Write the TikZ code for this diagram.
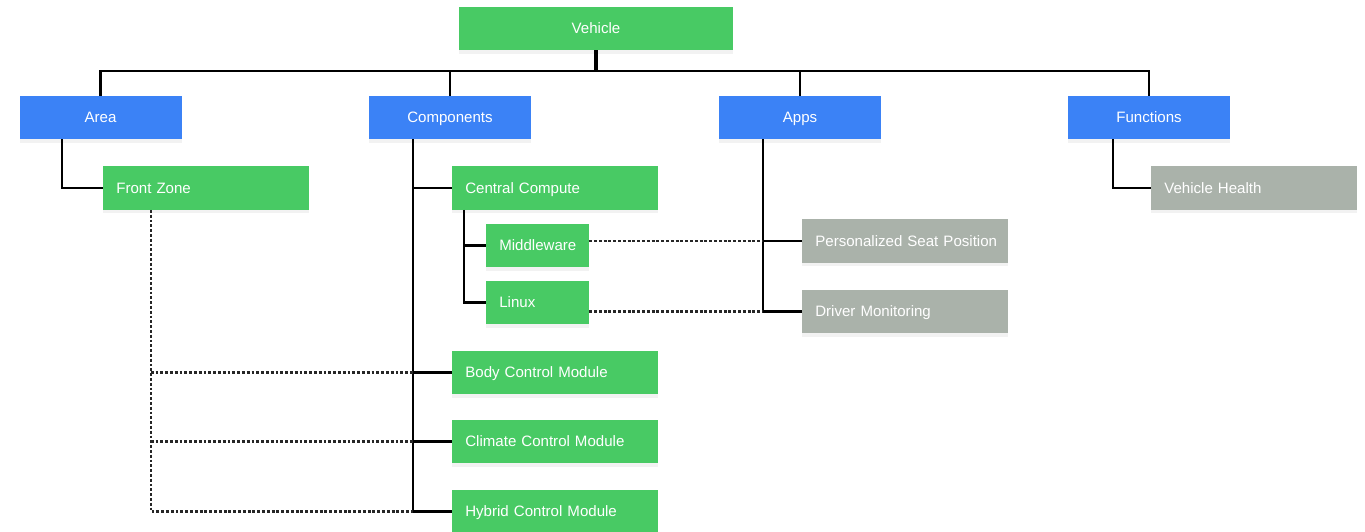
\documentclass[tikz,border=0pt]{standalone}
\usepackage{fontspec}
\setmainfont{Liberation Sans}
\usetikzlibrary{positioning, shadows}

\definecolor{boxgreen}{RGB}{72,202,100}
\definecolor{boxblue}{RGB}{59,130,246}
\definecolor{boxgray}{RGB}{170,178,170}

\tikzset{
  box/.style={draw=none, text=white, font=\fontsize{11.3}{13}\selectfont,
    minimum height=32.5pt, inner ysep=0pt, text height=8.2pt, text depth=0.5pt,
    drop shadow={shadow xshift=0pt, shadow yshift=-2.5pt, opacity=0.10}},
  group/.style={box, fill=boxblue, minimum width=121.5pt},
  item/.style={box, fill=boxgreen, text width=144.5pt, inner xsep=5pt, align=left,
    execute at begin node=\hspace*{5pt}},
  smallitem/.style={item, text width=67.25pt},
  feature/.style={item, fill=boxgray},
  tree/.style={line width=1.8pt},
  link/.style={line width=1.7pt, black!85, dash pattern=on 2.2pt off 1.4pt}
}

\begin{document}
\begin{tikzpicture}[x=0.75pt, y=-0.75pt]
\useasboundingbox (0,0) rectangle (1365,532);

\node[box, fill=boxgreen, minimum width=205.5pt] (vehicle) at (596,28.5) {Vehicle};

\node[group] (area) at (100.5,117.5) {Area};
\node[group] (comp) at (450,117.5) {Components};
\node[group] (apps) at (800,117.5) {Apps};
\node[group] (functions) at (1149,117.5) {Functions};

\node[item] (front) at (206,188) {Front Zone};
\node[item] (cc) at (555,188) {Central Compute};
\node[smallitem] (mw) at (537.5,245.5) {Middleware};
\node[smallitem] (linux) at (537.5,302.5) {Linux};
\node[item] (body) at (555,372.5) {Body Control Module};
\node[item] (climate) at (555,441.5) {Climate Control Module};
\node[item] (hybrid) at (555,511.5) {Hybrid Control Module};

\node[feature] (psp) at (905,241) {Personalized Seat Position};
\node[feature] (dm) at (905,311.5) {Driver Monitoring};
\node[feature] (vh) at (1254,188) {Vehicle Health};

% top level bus
\coordinate (bar) at (596,71);
\draw[line width=3.5pt] (vehicle.south) -- (bar);
\draw[tree] (area.north) |- (bar) -| (functions.north);
\foreach \n in {comp, apps}
  \draw[tree] (\n.north) -- (\n.north |- bar);

% stems under each group
\coordinate (astem) at ([xshift=32pt]area.south west);
\coordinate (cstem) at ([xshift=33pt]comp.south west);
\coordinate (ccstem) at ([xshift=9pt]cc.south west);
\coordinate (pstem) at ([xshift=33pt]apps.south west);
\coordinate (fstem) at ([xshift=34pt]functions.south west);

\draw[tree] (astem) |- (front.west);
\draw[tree] (fstem) |- (vh.west);

\draw[tree] (cstem) |- (hybrid.west);
\foreach \n in {cc, body, climate}
  \draw[tree] (cstem |- \n.west) -- (\n.west);

\draw[tree] (ccstem) |- (linux.west);
\draw[tree] (ccstem |- mw.west) -- (mw.west);

\draw[tree] (pstem) |- (dm.west);
\draw[tree] (pstem |- psp.west) -- (psp.west);

% dotted cross links
\coordinate (zstem) at ([xshift=36pt]front.south west);
\draw[link] (zstem) |- (cstem |- hybrid.west);
\foreach \n in {body, climate}
  \draw[link] (zstem |- \n.west) -- (cstem |- \n.west);
\draw[link] (mw.east |- psp.west) -- (pstem |- psp.west);
\draw[link] (linux.east |- dm.west) -- (pstem |- dm.west);
\end{tikzpicture}
\end{document}
